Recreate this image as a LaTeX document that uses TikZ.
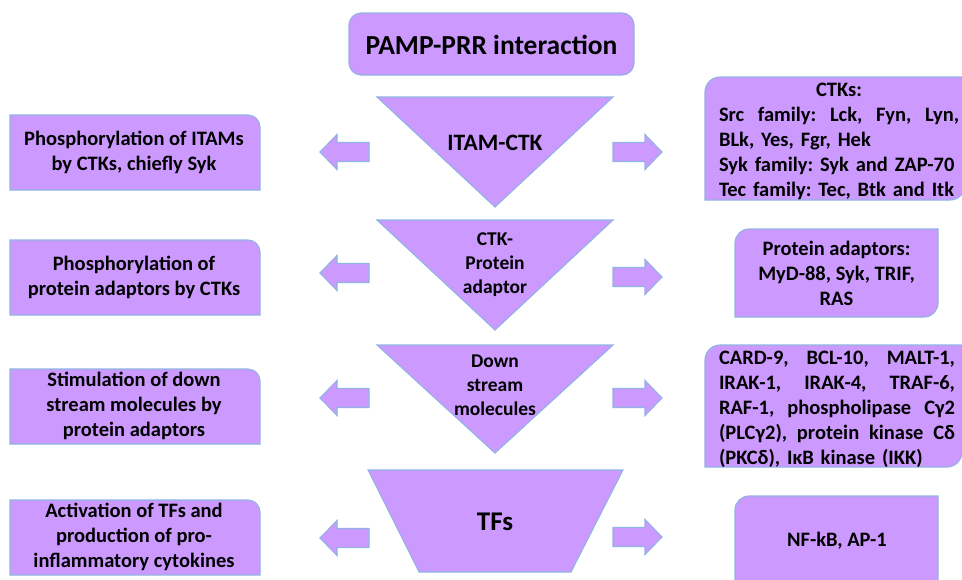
\documentclass[tikz,border=0pt]{standalone}
\usepackage{fontspec}
\setmainfont{Carlito}
\frenchspacing
\definecolor{pfill}{RGB}{204,153,255}
\definecolor{pedge}{RGB}{143,180,227}
\newcommand\ltrbox[4]{\path[blk] (#1,#4) -- (#1,#2) -- ({#3-12},#2) .. controls ({#3-5.4},#2) and (#3,{#2+5.4}) .. (#3,{#2+12}) -- (#3,#4) -- cycle;}
\newcommand\diagbox[5]{\path[blk] (#1,{#2+#5}) .. controls (#1,{#2+0.448*#5}) and ({#1+0.448*#5},#2) .. ({#1+#5},#2) -- (#3,#2) -- (#3,{#4-#5}) .. controls (#3,{#4-0.448*#5}) and ({#3-0.448*#5},#4) .. ({#3-#5},#4) -- (#1,#4) -- cycle;}
\newcommand\jline[2]{\leavevmode\hbox to #1{#2}}
\tikzset{
  blk/.style={fill=pfill,draw=pedge,line width=1.1pt,line join=miter},
  txt/.style={font=\bfseries\fontsize{20.5}{25}\selectfont,align=center,inner sep=0pt,text=black},
  tritxt/.style={font=\bfseries\fontsize{19.5}{24}\selectfont,align=center,inner sep=0pt},
  rarr/.pic={\path[blk] (0,-9.5) -- (32,-9.5) -- (32,-17.5) -- (49,0) -- (32,17.5) -- (32,9.5) -- (0,9.5) -- cycle;},
  larr/.pic={\path[blk] (0,-9.5) -- (-32,-9.5) -- (-32,-17.5) -- (-49,0) -- (-32,17.5) -- (-32,9.5) -- (0,9.5) -- cycle;}
}
\begin{document}
\begin{tikzpicture}[x=1pt,y=-1pt]
\clip (0,0) rectangle (962,579);
\fill[white] (0,0) rectangle (962,579);
% centre column
\draw[blk,rounded corners=12pt] (349,13) rectangle (634,75);
\path[blk] (377,97) -- (613,97) -- (495,207) -- cycle;
\path[blk] (377,220) -- (613,220) -- (495,330) -- cycle;
\path[blk] (377,345) -- (613,345) -- (495,453) -- cycle;
\path[blk] (368,470) -- (623,470) -- (571,572) -- (419,572) -- cycle;
% left boxes
\ltrbox{10}{115}{260}{190}
\ltrbox{10}{240}{260}{315}
\ltrbox{10}{369}{260}{444}
\ltrbox{10}{500}{260}{575}
% right boxes
\diagbox{705}{77}{965}{200}{15}
\diagbox{735}{229}{938}{317}{14}
\diagbox{705}{345}{962}{467}{15}
\diagbox{735}{496}{938}{600}{14}
% arrows
\pic at (369,152) {larr};
\pic at (369,273) {larr};
\pic at (369,398) {larr};
\pic at (369,538) {larr};
\pic at (613,152) {rarr};
\pic at (613,277) {rarr};
\pic at (613,398) {rarr};
\pic at (613,537) {rarr};
% texts
\node[txt,font=\bfseries\fontsize{27.5}{32}\selectfont] (top) at (491.5,45) {PAMP-PRR interaction};
\node[txt,font=\bfseries\fontsize{23.5}{28}\selectfont] (t1) at (495,143) {ITAM-CTK};
\node[tritxt] (t2) at (495,265) {CTK-\\Protein\\adaptor};
\node[tritxt] (t3) at (495,385) {Down\\stream\\molecules};
\node[txt,font=\bfseries\fontsize{27}{31}\selectfont] (t4) at (495,522) {TFs};
\node[txt] (l1) at (134,152) {Phosphorylation of ITAMs\\by CTKs, chiefly Syk};
\node[txt] (l2) at (134,277) {Phosphorylation of\\protein adaptors by CTKs};
\node[txt] (l3) at (134,406) {Stimulation of down\\stream molecules by\\protein adaptors};
\node[txt] (l4) at (134,537) {Activation of TFs and\\production of pro-\\inflammatory cytokines};
\node[txt,align=left,text width=240pt] (r1) at (839,141) {\jline{240pt}{\hfil CTKs:\hfil}\\
\jline{240pt}{Src\hfill{} family:\hfill{} Lck,\hfill{} Fyn,\hfill{} Lyn,}\\
BLk, Yes, Fgr, Hek\\
Syk family: Syk and ZAP-70\\
Tec family: Tec, Btk and Itk};
\node[txt] (r2) at (836.5,273) {Protein adaptors:\\MyD-88, Syk, TRIF,\\RAS};
\node[txt,align=left,text width=236pt] (r3) at (837,409) {\jline{236pt}{CARD-9,\hfill{} BCL-10,\hfill{} MALT-1,}\\
\jline{236pt}{IRAK-1,\hfill{} IRAK-4,\hfill{} TRAF-6,}\\
\jline{236pt}{RAF-1,\hfill{} phospholipase\hfill{} Cγ2}\\
\jline{236pt}{(PLCγ2),\hfill{} protein\hfill{} kinase\hfill{} Cδ}\\
(PKCδ), IκB kinase (IKK)};
\node[txt] (r4) at (837,541) {NF-kB, AP-1};
\end{tikzpicture}
\end{document}
